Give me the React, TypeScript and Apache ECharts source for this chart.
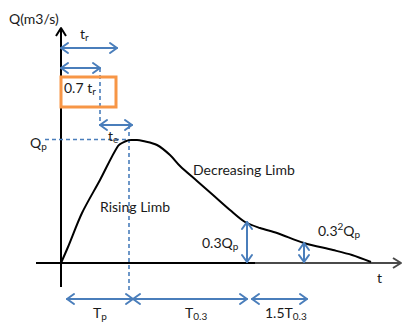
import { useEffect, useRef } from "react";
import * as echarts from "echarts";

// Hydrograph (time t, discharge Q) in chart units
const curveT = [0, 0.7, 2.1, 3.9, 5.7, 6.4, 7.0, 7.6, 8.2, 9.6, 10.9, 11.9, 13.6, 15.2, 16.9, 18.4, 19.9, 21.6, 24.3, 27.2, 29.1, 31.0];
const curveQ = [0, 1.6, 5.0, 8.3, 11.7, 12.15, 12.3, 12.3, 12.2, 11.8, 10.8, 9.7, 8.2, 6.8, 5.3, 4.1, 3.5, 3.0, 2.0, 1.3, 0.8, 0.1];

// Axis lines [t1, Q1, t2, Q2, hasHead]
const axisLines = [
  [0, -2.4, 0, 23.5, 1],
  [-2.5, 0, 19.4, 0, 0],
  [19.4, 0, 34.0, 0, 1],
];
const axisColors = ["#000000", "#000000", "#4a4a4a"];

// Blue double arrows [t1, Q1, t2, Q2]
const topArrows = [
  [0, 21.5, 5.6, 21.5],
  [0, 19.5, 3.9, 19.5],
  [3.9, 13.8, 7.1, 13.8],
];
const recessionArrows = [
  [18.6, 0.1, 18.6, 4.1],
  [24.3, 0.1, 24.3, 2.0],
];
const bottomArrows = [
  [0.6, -3.6, 7.2, -3.6],
  [7.2, -3.6, 18.6, -3.6],
  [19.1, -3.6, 24.6, -3.6],
];

// Dashed guides [t1, Q1, t2, Q2]
const dashLines = [
  [3.9, 19.5, 3.9, 13.8],
  [-1.6, 12.35, 6.8, 12.35],
  [6.8, 13.8, 6.8, -3.0],
];

// Highlight box [t1, Q1, t2, Q2]
const boxes = [[0, 18.6, 5.5, 15.6]];

// Labels
const labelTexts = [
  "Q(m3/s)",
  "{b|t}{s|r}",
  "{b|0.7 t}{s|r}",
  "{b|t}{s|e}",
  "{b|Q}{s|p}",
  "Rising Limb",
  "Decreasing Limb",
  "{b|0.3Q}{s|p}",
  "{b|0.3}{u|2}{b|Q}{s|p}",
  "t",
  "{b|T}{s|p}",
  "{b|T}{s|0.3}",
  "{b|1.5T}{s|0.3}",
];
const labelT = [-5.2, 1.9, 0.3, 4.7, -3.1, 3.9, 13.2, 14.1, 25.7, 31.6, 3.2, 12.4, 20.4];
const labelQ = [24.5, 23.0, 17.6, 12.8, 12.1, 5.7, 9.4, 2.1, 3.3, -1.4, -4.9, -4.9, -4.9];

const BLUE = "#4A7EBB";
const ORANGE = "#F79646";
const TEXT = "#1a1a1a";
const FONT = "Lato, 'Noto Sans', sans-serif";

function chevron(tip: number[], from: number[], len = 7, half = 5) {
  const dx = tip[0] - from[0];
  const dy = tip[1] - from[1];
  const d = Math.hypot(dx, dy) || 1;
  const ux = dx / d;
  const uy = dy / d;
  const bx = tip[0] - ux * len;
  const by = tip[1] - uy * len;
  return [
    [bx - uy * half, by + ux * half],
    [tip[0], tip[1]],
    [bx + uy * half, by - ux * half],
  ];
}

function arrowSeries(data: number[][], z: number) {
  return {
    type: "custom",
    coordinateSystem: "cartesian2d",
    z,
    data,
    renderItem: (_p: any, api: any) => {
      const a = api.coord([api.value(0), api.value(1)]);
      const b = api.coord([api.value(2), api.value(3)]);
      const st = { stroke: BLUE, fill: "none", lineWidth: 2, lineCap: "round", lineJoin: "round" };
      return {
        type: "group",
        children: [
          { type: "line", shape: { x1: a[0], y1: a[1], x2: b[0], y2: b[1] }, style: { ...st } },
          { type: "polyline", shape: { points: chevron(b, a) }, style: { ...st } },
          { type: "polyline", shape: { points: chevron(a, b) }, style: { ...st } },
        ],
      };
    },
  };
}

export default function App() {
  const ref = useRef<HTMLDivElement>(null);
  useEffect(() => {
    if (!ref.current) return;
    const chart = echarts.init(ref.current, undefined, { renderer: "svg" });
    const rich = {
      b: { fontSize: 14, fontFamily: FONT, fill: TEXT, lineHeight: 18 },
      s: { fontSize: 10, fontFamily: FONT, fill: TEXT, verticalAlign: "bottom" },
      u: { fontSize: 10, fontFamily: FONT, fill: TEXT, verticalAlign: "top" },
    };
    const option: any = {
      animation: false,
      backgroundColor: "#ffffff",
      grid: { left: 0, right: 0, top: 0, bottom: 0 },
      xAxis: { type: "value", min: -6.1, max: 34.2, show: false },
      yAxis: { type: "value", min: -5.9, max: 26.3, show: false },
      series: [
        {
          type: "custom",
          coordinateSystem: "cartesian2d",
          z: 1,
          data: axisLines,
          renderItem: (p: any, api: any) => {
            const a = api.coord([api.value(0), api.value(1)]);
            const b = api.coord([api.value(2), api.value(3)]);
            const color = axisColors[p.dataIndex];
            const st = { stroke: color, fill: "none", lineWidth: 2, lineJoin: "round" };
            const children: any[] = [
              { type: "line", shape: { x1: a[0], y1: a[1], x2: b[0], y2: b[1] }, style: { ...st } },
            ];
            if (api.value(4) === 1) {
              children.push({ type: "polyline", shape: { points: chevron(b, a, 8, 5) }, style: { ...st } });
            }
            return { type: "group", children };
          },
        },
        {
          type: "custom",
          coordinateSystem: "cartesian2d",
          z: 2,
          data: dashLines,
          renderItem: (_p: any, api: any) => {
            const a = api.coord([api.value(0), api.value(1)]);
            const b = api.coord([api.value(2), api.value(3)]);
            return {
              type: "line",
              shape: { x1: a[0], y1: a[1], x2: b[0], y2: b[1] },
              style: { stroke: BLUE, fill: "none", lineWidth: 1.6, lineDash: [4, 3] },
            };
          },
        },
        {
          type: "line",
          z: 3,
          data: curveT.map((t, i) => [t, curveQ[i]]),
          showSymbol: false,
          smooth: 0.3,
          lineStyle: { color: "#000000", width: 2 },
          itemStyle: { color: "#000000" },
        },
        arrowSeries(topArrows, 4),
        arrowSeries(recessionArrows, 4),
        arrowSeries(bottomArrows, 4),
        {
          type: "custom",
          coordinateSystem: "cartesian2d",
          z: 5,
          data: boxes,
          renderItem: (_p: any, api: any) => {
            const a = api.coord([api.value(0), api.value(1)]);
            const b = api.coord([api.value(2), api.value(3)]);
            return {
              type: "rect",
              shape: { x: a[0], y: a[1], width: b[0] - a[0], height: b[1] - a[1] },
              style: { stroke: ORANGE, fill: "none", lineWidth: 3 },
            };
          },
        },
        {
          type: "custom",
          coordinateSystem: "cartesian2d",
          z: 6,
          data: labelT.map((t, i) => [t, labelQ[i]]),
          renderItem: (p: any, api: any) => {
            const c = api.coord([api.value(0), api.value(1)]);
            return {
              type: "text",
              x: c[0],
              y: c[1],
              style: {
                text: labelTexts[p.dataIndex],
                fill: TEXT,
                fontSize: 14,
                fontFamily: FONT,
                lineHeight: 18,
                align: "left",
                verticalAlign: "middle",
                rich,
              },
            };
          },
        },
      ],
    };
    chart.setOption(option);
    return () => chart.dispose();
  }, []);
  return (
    <div
      ref={ref}
      style={{ position: "absolute", left: 0, top: 0, width: 403, height: 322 }}
    />
  );
}
